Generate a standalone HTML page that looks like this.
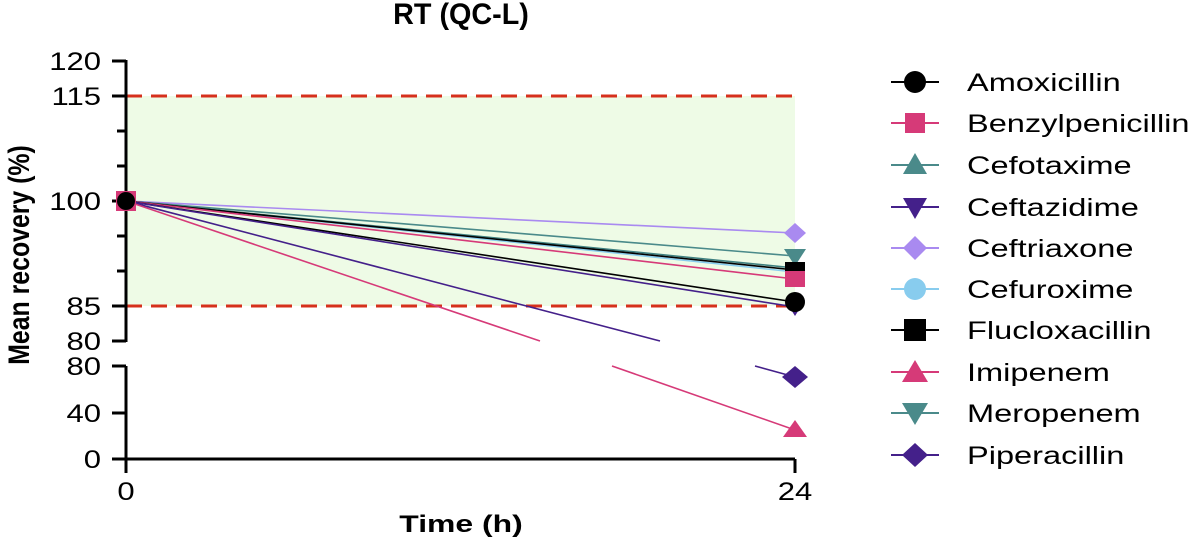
<!DOCTYPE html>
<html><head><style>body{margin:0;background:#fff}svg{display:block}text{font-family:"Liberation Sans",Arial,sans-serif}</style></head>
<body>
<svg width="1200" height="541" viewBox="0 0 1200 541">
<text transform="translate(461,24) scale(1.15,1.2)" font-size="25" font-weight="bold" text-anchor="middle">RT (QC-L)</text>
<rect x="126" y="96" width="669" height="210" fill="#eefbe6"/>
<line x1="126" y1="96" x2="795" y2="96" stroke="#d6301c" stroke-width="3" stroke-dasharray="16,9"/>
<line x1="126" y1="306" x2="795" y2="306" stroke="#d6301c" stroke-width="3" stroke-dasharray="16,9"/>
<g stroke="#000" stroke-width="3">
<line x1="126" y1="60" x2="126" y2="342"/>
<line x1="126" y1="366" x2="126" y2="473"/>
<line x1="126" y1="459" x2="795" y2="459"/>
<line x1="795" y1="459" x2="795" y2="473"/>
<line x1="112" y1="61" x2="126" y2="61"/><line x1="112" y1="96" x2="126" y2="96"/>
<line x1="117" y1="131" x2="126" y2="131"/><line x1="117" y1="166" x2="126" y2="166"/>
<line x1="112" y1="201" x2="126" y2="201"/><line x1="117" y1="236" x2="126" y2="236"/>
<line x1="117" y1="271" x2="126" y2="271"/><line x1="112" y1="306" x2="126" y2="306"/>
<line x1="112" y1="341" x2="126" y2="341"/>
<line x1="112" y1="366" x2="126" y2="366"/><line x1="112" y1="413" x2="126" y2="413"/><line x1="112" y1="459" x2="126" y2="459"/>
</g>
<g font-size="23" text-anchor="end">
<text transform="translate(101,70) scale(1.35,1.1)">120</text>
<text transform="translate(101,105) scale(1.35,1.1)">115</text>
<text transform="translate(101,210) scale(1.35,1.1)">100</text>
<text transform="translate(101,315) scale(1.35,1.1)">85</text>
<text transform="translate(101,350) scale(1.35,1.1)">80</text>
<text transform="translate(101,375) scale(1.35,1.1)">80</text>
<text transform="translate(101,422) scale(1.35,1.1)">40</text>
<text transform="translate(101,468) scale(1.35,1.1)">0</text>
</g>
<g font-size="23" text-anchor="middle">
<text transform="translate(126,500) scale(1.35,1.1)">0</text>
<text transform="translate(795,500) scale(1.35,1.1)">24</text>
</g>
<text transform="translate(461,532) scale(1.45,1.1)" font-size="22" font-weight="bold" text-anchor="middle">Time (h)</text>
<text transform="translate(29,255) rotate(-90) scale(1.13,1.35)" font-size="22" font-weight="bold" text-anchor="middle">Mean recovery (%)</text>
<g stroke-width="1.6" fill="none">
<line x1="126" y1="201" x2="795" y2="233" stroke="#a98af0"/>
<line x1="126" y1="201" x2="795" y2="256" stroke="#4a8a8a"/>
<line x1="126" y1="201" x2="795" y2="268" stroke="#3f8080"/>
<line x1="126" y1="201" x2="795" y2="272" stroke="#88ccee"/>
<line x1="126" y1="201" x2="795" y2="270" stroke="#000"/>
<line x1="126" y1="201" x2="795" y2="279" stroke="#d63a78"/>
<line x1="126" y1="201" x2="795" y2="302" stroke="#000"/>
<line x1="126" y1="201" x2="795" y2="307" stroke="#44208a"/>
<line x1="126" y1="201" x2="660" y2="341" stroke="#44208a"/>
<line x1="755" y1="366" x2="795" y2="377" stroke="#44208a"/>
<line x1="126" y1="201" x2="540" y2="341" stroke="#d63a78"/>
<line x1="612" y1="366" x2="795" y2="430" stroke="#d63a78"/>
</g>
<rect x="116" y="191" width="20" height="20" fill="#d63a78"/>
<circle cx="126" cy="201" r="9" fill="#000"/>
<polygon points="795,223 806,233 795,243 784,233" fill="#a98af0"/>
<polygon points="784,249 806,249 795,266" fill="#4a8a8a"/>
<rect x="785" y="262" width="20" height="16" fill="#000"/>
<rect x="785" y="271" width="20" height="16" fill="#d63a78"/>
<polygon points="795,300 805,300 795,316 785,300" fill="#44208a"/>
<circle cx="795" cy="302" r="10" fill="#000"/>
<polygon points="795,366 808,377 795,388 782,377" fill="#44208a"/>
<polygon points="795,420 807,437 783,437" fill="#d63a78"/>
<g stroke-width="2">
<line x1="891" y1="82" x2="939" y2="82" stroke="#000"/><circle cx="915" cy="82" r="11" fill="#000"/>
<line x1="891" y1="123" x2="939" y2="123" stroke="#d63a78"/><rect x="905" y="113" width="20" height="20" fill="#d63a78"/>
<line x1="891" y1="165" x2="939" y2="165" stroke="#4a8a8a"/><polygon points="915,153 927,174 903,174" fill="#4a8a8a"/>
<line x1="891" y1="207" x2="939" y2="207" stroke="#44208a"/><polygon points="903,198 927,198 915,219" fill="#44208a"/>
<line x1="891" y1="248" x2="939" y2="248" stroke="#a98af0"/><polygon points="915,236 927,248 915,260 903,248" fill="#a98af0"/>
<line x1="891" y1="289" x2="939" y2="289" stroke="#88ccee"/><circle cx="915" cy="289" r="11" fill="#88ccee"/>
<line x1="891" y1="330" x2="939" y2="330" stroke="#000"/><rect x="904" y="319" width="22" height="22" fill="#000"/>
<line x1="891" y1="372" x2="939" y2="372" stroke="#d63a78"/><polygon points="915,360 928,382 902,382" fill="#d63a78"/>
<line x1="891" y1="413" x2="939" y2="413" stroke="#4a8a8a"/><polygon points="902,403 928,403 915,425" fill="#4a8a8a"/>
<line x1="891" y1="455" x2="939" y2="455" stroke="#44208a"/><polygon points="915,443 928,455 915,467 902,455" fill="#44208a"/>
</g>
<g font-size="22">
<text transform="translate(967,91) scale(1.48,1.12)">Amoxicillin</text>
<text transform="translate(967,132) scale(1.48,1.12)">Benzylpenicillin</text>
<text transform="translate(967,174) scale(1.48,1.12)">Cefotaxime</text>
<text transform="translate(967,216) scale(1.48,1.12)">Ceftazidime</text>
<text transform="translate(967,257) scale(1.48,1.12)">Ceftriaxone</text>
<text transform="translate(967,298) scale(1.48,1.12)">Cefuroxime</text>
<text transform="translate(967,339) scale(1.48,1.12)">Flucloxacillin</text>
<text transform="translate(967,381) scale(1.48,1.12)">Imipenem</text>
<text transform="translate(967,422) scale(1.48,1.12)">Meropenem</text>
<text transform="translate(967,464) scale(1.48,1.12)">Piperacillin</text>
</g>
</svg>
</body></html>
